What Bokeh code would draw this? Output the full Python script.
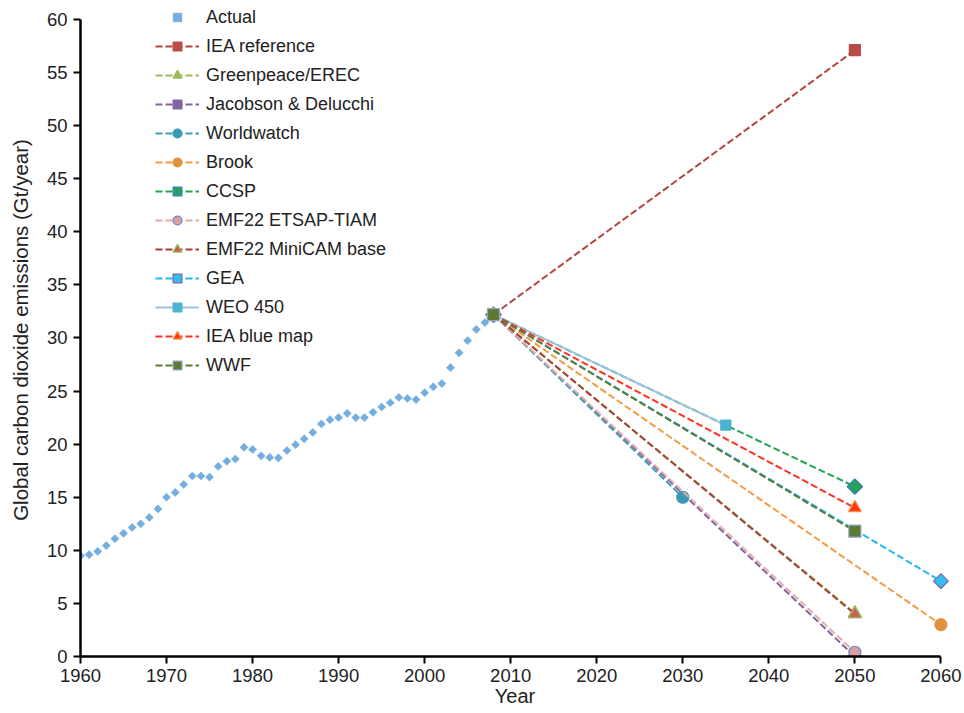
import numpy as np
from bokeh.plotting import figure
from bokeh.models import Range1d, FixedTicker, Legend, LegendItem
from bokeh.embed import file_html
from bokeh.resources import INLINE

# ---------------- data ----------------
actual_years = list(range(1960, 2009))
actual_values = [9.5, 9.6, 9.9, 10.45, 11.1, 11.6, 12.15, 12.5, 13.1, 13.9,
                 15.0, 15.45, 16.2, 17.0, 17.0, 16.9, 17.9, 18.4, 18.6, 19.7,
                 19.5, 18.9, 18.75, 18.7, 19.4, 19.95, 20.5, 21.1, 21.9, 22.3,
                 22.5, 22.9, 22.5, 22.5, 23.0, 23.5, 23.9, 24.4, 24.3, 24.2,
                 24.85, 25.4, 25.7, 27.2, 28.6, 29.75, 30.8, 31.45, 32.2]

iea_ref_years = [2008, 2050]
iea_ref_values = [32.2, 57.1]
greenpeace_years = [2008, 2050]
greenpeace_values = [32.2, 4.1]
jacobson_years = [2008, 2050]
jacobson_values = [32.2, 0.0]
worldwatch_years = [2008, 2030]
worldwatch_values = [32.2, 15.0]
brook_years = [2008, 2060]
brook_values = [32.2, 3.0]
ccsp_years = [2008, 2050]
ccsp_values = [32.2, 16.0]
etsap_years = [2008, 2050]
etsap_values = [32.2, 0.4]
minicam_years = [2008, 2050]
minicam_values = [32.2, 4.0]
gea_years = [2008, 2060]
gea_values = [32.2, 7.1]
weo_years = [2008, 2035]
weo_values = [32.2, 21.8]
blue_map_years = [2008, 2050]
blue_map_values = [32.2, 14.0]
wwf_years = [2008, 2050]
wwf_values = [32.2, 11.8]

x_ticks = [1960, 1970, 1980, 1990, 2000, 2010, 2020, 2030, 2040, 2050, 2060]
y_ticks = [0, 5, 10, 15, 20, 25, 30, 35, 40, 45, 50, 55, 60]

# ---------------- styles ----------------
D = np.pi / 4
series = [
    ("IEA reference", iea_ref_years, iea_ref_values,
     dict(line="#B5453F", dash="7 3", marker="square", fill="#B94A48", outline="#B94A48", size=11, angle=0)),
    ("Greenpeace/EREC", greenpeace_years, greenpeace_values,
     dict(line="#9BBB59", dash="7 3", marker="triangle", fill="#9BBB59", outline="#9BBB59", size=13, angle=0)),
    ("Jacobson & Delucchi", jacobson_years, jacobson_values,
     dict(line="#8064A2", dash="7 3", marker="square", fill="#8064A2", outline="#8064A2", size=10, angle=D)),
    ("Worldwatch", worldwatch_years, worldwatch_values,
     dict(line="#3C9DB8", dash="7 3", marker="circle", fill="#3A9AB5", outline="#3A9AB5", size=12, angle=0)),
    ("Brook", brook_years, brook_values,
     dict(line="#F69A45", dash="7 3", marker="circle", fill="#E0923E", outline="#E0923E", size=12, angle=0)),
    ("CCSP", ccsp_years, ccsp_values,
     dict(line="#22A552", dash="7 3", marker="square", fill="#26A05A", outline="#3A7FC0", size=11, angle=D)),
    ("EMF22 ETSAP-TIAM", etsap_years, etsap_values,
     dict(line="#E9A9A7", dash="7 3", marker="circle", fill="#D9A0A0", outline="#6F86C4", size=12, angle=0)),
    ("EMF22 MiniCAM base", minicam_years, minicam_values,
     dict(line="#A8403A", dash="7 3", marker="triangle", fill="#C8605A", outline="#9BBB59", size=13, angle=0)),
    ("GEA", gea_years, gea_values,
     dict(line="#22B8F0", dash="7 3", marker="square", fill="#2FC0F0", outline="#8064A2", size=10.5, angle=D)),
    ("WEO 450", weo_years, weo_values,
     dict(line="#9DC3E6", dash="solid", marker="square", fill="#4BB3D0", outline="#4BB3D0", size=10, angle=0)),
    ("IEA blue map", blue_map_years, blue_map_values,
     dict(line="#FF3020", dash="7 3", marker="triangle", fill="#FF3A10", outline="#F79646", size=13, angle=0)),
    ("WWF", wwf_years, wwf_values,
     dict(line="#5F7A33", dash="7 3", marker="square", fill="#5E7A32", outline="#8EA5C8", size=12, angle=0)),
]

FONT = "Liberation Sans"
TXT = "#222222"

p = figure(width=962, height=712, output_backend="svg", toolbar_location=None,
           x_range=Range1d(1960, 2061), y_range=Range1d(0, 61.5),
           min_border_left=80, min_border_right=13, min_border_top=3, min_border_bottom=56)
p.outline_line_color = None
p.grid.visible = False
p.background_fill_color = "white"

items = []
r_act = p.scatter(actual_years, actual_values, marker="square", angle=D, size=5.8,
                  fill_color="#74AEDF", line_color="#74AEDF", line_width=0.5)
items.append(LegendItem(label="Actual", renderers=[r_act]))

for name, xs, ys, st in series:
    rl = p.line(xs, ys, line_color=st["line"], line_width=2, line_dash=st["dash"])
    rm = p.scatter(xs, ys, marker=st["marker"], angle=st["angle"], size=st["size"],
                   fill_color=st["fill"], line_color=st["outline"], line_width=1.2)
    items.append(LegendItem(label=name, renderers=[rl, rm]))

legend = Legend(items=items, location=(75, 280), glyph_width=44, glyph_height=22,
                label_standoff=7, spacing=7, padding=0, margin=0,
                border_line_color=None, background_fill_alpha=0,
                label_text_font=FONT, label_text_font_size="18px",
                label_text_color=TXT, label_height=22)
p.add_layout(legend, "center")

for ax in (p.xaxis[0], p.yaxis[0]):
    ax.axis_line_width = 2.5
    ax.axis_line_color = "black"
    ax.major_tick_line_width = 2
    ax.major_tick_line_color = "black"
    ax.major_tick_out = 7
    ax.major_tick_in = 0
    ax.minor_tick_line_color = None
    ax.major_label_text_font = FONT
    ax.major_label_text_font_size = "18.5px"
    ax.major_label_text_color = TXT
    ax.axis_label_text_font = FONT
    ax.axis_label_text_font_size = "20px"
    ax.axis_label_text_font_style = "normal"
    ax.axis_label_text_color = TXT

p.xaxis.ticker = FixedTicker(ticks=x_ticks)
p.yaxis.ticker = FixedTicker(ticks=y_ticks)
p.xaxis.bounds = (1960, 2060)
p.yaxis.bounds = (0, 60)
p.xaxis.major_label_standoff = 5
p.yaxis.major_label_standoff = 6
p.yaxis.axis_label = "Global carbon dioxide emissions (Gt/year)"
p.yaxis.axis_label_standoff = 12
p.yaxis.axis_label_text_font_size = "20.5px"
p.xaxis.axis_label = "Year"
p.xaxis.axis_label_standoff = 0

open("out.html", "w").write(file_html(p, INLINE))
